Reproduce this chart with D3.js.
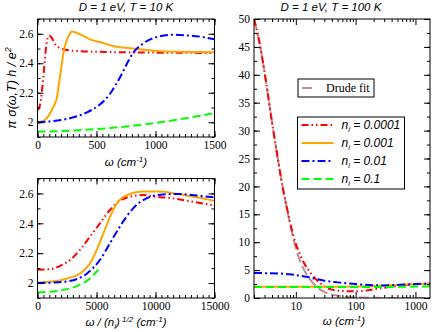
<!DOCTYPE html>
<html>
<head>
<meta charset="utf-8">
<title>optical conductivity</title>
<script src="https://cdnjs.cloudflare.com/ajax/libs/d3/7.8.5/d3.min.js"></script>
<style>
  body { margin: 0; background: #fff; }
  svg { display: block; }
</style>
</head>
<body>
<script>
// ---- data ----
var niLabels = ["0.0001", "0.001", "0.01", "0.1"];

// top left panel, T = 10 K  (omega in cm^-1, pi sigma h / e^2)
var wRed10 = [0, 10, 20, 30, 40, 50, 60, 70, 80, 90, 100, 115, 130, 150, 175, 200, 300, 500, 1000, 1500];
var sRed10 = [2.085, 2.09, 2.115, 2.16, 2.23, 2.31, 2.40, 2.49, 2.55, 2.578, 2.588, 2.578, 2.56, 2.53, 2.51, 2.50, 2.485, 2.478, 2.472, 2.47];
var wOra10 = [0, 50, 100, 125, 150, 163, 180, 191, 210, 225, 250, 275, 290, 310, 350, 400, 450, 528, 650, 808, 1089, 1300, 1500];
var sOra10 = [2.0, 2.01, 2.05, 2.09, 2.13, 2.16, 2.25, 2.31, 2.42, 2.49, 2.56, 2.60, 2.615, 2.612, 2.60, 2.58, 2.56, 2.544, 2.515, 2.50, 2.48, 2.477, 2.475];
var wBlu10 = [0, 100, 247, 416, 528, 612, 660, 710, 760, 808, 893, 1033, 1145, 1258, 1398, 1500];
var sBlu10 = [2.0, 2.005, 2.022, 2.066, 2.12, 2.19, 2.25, 2.32, 2.40, 2.467, 2.533, 2.582, 2.593, 2.589, 2.578, 2.562];
var wGre10 = [0, 200, 400, 600, 800, 1000, 1200, 1350, 1500];
var sGre10 = [1.937, 1.94, 1.948, 1.96, 1.975, 1.995, 2.02, 2.04, 2.062];

// bottom left panel, omega / sqrt(n_i)
var xRedS = [0, 1072, 1916, 2760, 3604, 4448, 5292, 6137, 6981, 7825, 8950, 10076, 11483, 13171, 15000];
var sRedS = [2.089, 2.093, 2.115, 2.155, 2.222, 2.311, 2.40, 2.489, 2.551, 2.578, 2.589, 2.578, 2.567, 2.544, 2.52];
var xOraS = [0, 1200, 2535, 3604, 4448, 5011, 5573, 6137, 6700, 7525, 8950, 10357, 11764, 13734, 15000];
var sOraS = [2.002, 2.01, 2.031, 2.064, 2.131, 2.22, 2.331, 2.442, 2.531, 2.587, 2.613, 2.613, 2.598, 2.571, 2.55];
var xBluS = [0, 1200, 2535, 4223, 5292, 6137, 6981, 8106, 9232, 10638, 12045, 13734, 15000];
var sBluS = [2.0, 2.003, 2.011, 2.066, 2.155, 2.266, 2.378, 2.50, 2.567, 2.593, 2.596, 2.584, 2.573];
var xGreS = [0, 1916, 3323, 4448, 5151];
var sGreS = [1.937, 1.95, 1.98, 2.031, 2.089];

// right panel, T = 100 K (log omega)
var wDrude = [2, 2.5, 3, 4, 5, 6, 7, 8, 10, 12, 15, 20, 25, 30, 40, 50, 70, 100, 200, 500, 1000, 1750];
var sDrude = [50, 45.5, 40.5, 31.5, 25.0, 19.9, 16.3, 13.3, 8.9, 6.4, 4.3, 2.5, 1.6, 1.1, 0.6, 0.4, 0.2, 0.1, 0.03, 0, 0, 0];
var wRed100 = [2, 2.5, 3, 4, 5, 6, 7, 8, 10, 12, 14, 18, 22, 26, 30, 40, 60, 80, 100, 150, 200, 300, 500, 700, 1000, 1750];
var sRed100 = [50, 45.5, 40.5, 31.5, 25, 20, 16.5, 13.6, 9.7, 7.6, 6.1, 4.4, 3.3, 2.6, 2.1, 1.5, 1.25, 1.2, 1.2, 1.35, 1.55, 1.85, 2.15, 2.35, 2.45, 2.55];
var wOra100 = [2, 10, 50, 100, 200, 500, 1000, 1750];
var sOra100 = [2.0, 2.0, 2.02, 2.05, 2.15, 2.35, 2.5, 2.55];
var wBlu100 = [2, 3, 5, 8, 10, 15, 20, 30, 50, 100, 200, 300, 500, 1000, 1750];
var sBlu100 = [4.5, 4.45, 4.4, 4.25, 4.1, 3.8, 3.5, 3.1, 2.8, 2.5, 2.3, 2.25, 2.35, 2.5, 2.6];
var wGre100 = [2, 100, 500, 1000, 1750];
var sGre100 = [1.97, 1.97, 2.0, 2.05, 2.1];

// tick values
var xMaj1 = [0, 500, 1000, 1500];
var xMaj2 = [0, 5000, 10000, 15000];
var yMajL = [2, 2.2, 2.4, 2.6];
var yMajR = [0, 5, 10, 15, 20, 25, 30, 35, 40, 45, 50];
var xMajLog = [10, 100, 1000];

// ---- styles for the four impurity concentrations ----
var colors = ["#ff0000", "#ffa500", "#0000ff", "#00ff00"];
var dashes = ["7,3,1.5,3,1.5,3", null, "8,3,2,3", "8,4"];
var drudeColor = "#bc8f8f";

var svg = d3.select("body").append("svg")
    .attr("width", 436)
    .attr("height", 332);

var serif = "Liberation Serif, Times New Roman, serif";
var sans = "Liberation Sans, Arial, sans-serif";

function range(a, b, step) {
  var out = [];
  for (var v = a; v <= b + 1e-9; v += step) out.push(+v.toFixed(6));
  return out;
}

// draws frame and inward ticks on all four sides
function frame(g, x, y, w, h, xMaj, xMin, yMaj, yMin, xFmt) {
  function add(axis, tx, ty, size, fmt) {
    var a = g.append("g")
        .attr("transform", "translate(" + tx + "," + ty + ")")
        .call(axis.tickSize(-size).tickPadding(4).tickFormat(fmt));
    a.select(".domain").remove();
    a.attr("font-family", serif).attr("font-size", 11.5);
    a.selectAll("text").attr("fill", "#000");
  }
  var none = function() { return ""; };
  add(d3.axisBottom(x).tickValues(xMin), 0, h, 3, none);
  add(d3.axisBottom(x).tickValues(xMaj), 0, h, 6, xFmt);
  add(d3.axisTop(x).tickValues(xMin), 0, 0, 3, none);
  add(d3.axisTop(x).tickValues(xMaj), 0, 0, 6, none);
  add(d3.axisLeft(y).tickValues(yMin), 0, 0, 3, none);
  add(d3.axisLeft(y).tickValues(yMaj), 0, 0, 6, function(d) { return String(d); });
  add(d3.axisRight(y).tickValues(yMin), w, 0, 3, none);
  add(d3.axisRight(y).tickValues(yMaj), w, 0, 6, none);
  g.append("rect")
      .attr("width", w).attr("height", h)
      .attr("fill", "none").attr("stroke", "#000").attr("stroke-width", 1);
}

function curve(g, x, y, xs, ys, color, dash, width) {
  var line = d3.line()
      .x(function(d, i) { return x(xs[i]); })
      .y(function(d) { return y(d); })
      .curve(d3.curveMonotoneX);
  g.append("path")
      .attr("d", line(ys))
      .attr("fill", "none")
      .attr("stroke", color)
      .attr("stroke-width", width || 2)
      .attr("stroke-dasharray", dash);
}

// ---- top left ----
var p1 = {left: 37.5, top: 19, w: 177, h: 118};
var g1 = svg.append("g").attr("transform", "translate(" + p1.left + "," + p1.top + ")");
var x1 = d3.scaleLinear().domain([0, 1500]).range([0, p1.w]);
var y1 = d3.scaleLinear().domain([1.9, 2.7]).range([p1.h, 0]);
g1.append("clipPath").attr("id", "c1").append("rect").attr("width", p1.w).attr("height", p1.h);
var d1 = g1.append("g").attr("clip-path", "url(#c1)");
curve(d1, x1, y1, wRed10, sRed10, colors[0], dashes[0]);
curve(d1, x1, y1, wOra10, sOra10, colors[1], dashes[1]);
curve(d1, x1, y1, wBlu10, sBlu10, colors[2], dashes[2]);
curve(d1, x1, y1, wGre10, sGre10, colors[3], dashes[3]);
frame(g1, x1, y1, p1.w, p1.h, xMaj1, range(0, 1500, 50), yMajL, range(1.9, 2.7, 0.1), function(d) { return String(d); });

// ---- bottom left ----
var p2 = {left: 37.5, top: 178.5, w: 177, h: 119.5};
var g2 = svg.append("g").attr("transform", "translate(" + p2.left + "," + p2.top + ")");
var x2 = d3.scaleLinear().domain([0, 15000]).range([0, p2.w]);
var y2 = d3.scaleLinear().domain([1.9, 2.7]).range([p2.h, 0]);
g2.append("clipPath").attr("id", "c2").append("rect").attr("width", p2.w).attr("height", p2.h);
var d2 = g2.append("g").attr("clip-path", "url(#c2)");
curve(d2, x2, y2, xRedS, sRedS, colors[0], dashes[0]);
curve(d2, x2, y2, xOraS, sOraS, colors[1], dashes[1]);
curve(d2, x2, y2, xBluS, sBluS, colors[2], dashes[2]);
curve(d2, x2, y2, xGreS, sGreS, colors[3], dashes[3]);
frame(g2, x2, y2, p2.w, p2.h, xMaj2, range(0, 15000, 500), yMajL, range(1.9, 2.7, 0.1), function(d) { return String(d); });

// ---- right ----
var p3 = {left: 254, top: 19, w: 176, h: 279};
var g3 = svg.append("g").attr("transform", "translate(" + p3.left + "," + p3.top + ")");
var x3 = d3.scaleLog().domain([2, 1750]).range([0, p3.w]);
var y3 = d3.scaleLinear().domain([0, 50]).range([p3.h, 0]);
g3.append("clipPath").attr("id", "c3").append("rect").attr("width", p3.w).attr("height", p3.h);
var d3g = g3.append("g").attr("clip-path", "url(#c3)");
curve(d3g, x3, y3, wDrude, sDrude, drudeColor, "10,4", 2);
curve(d3g, x3, y3, wRed100, sRed100, colors[0], dashes[0]);
curve(d3g, x3, y3, wOra100, sOra100, colors[1], dashes[1]);
curve(d3g, x3, y3, wBlu100, sBlu100, colors[2], dashes[2]);
curve(d3g, x3, y3, wGre100, sGre100, colors[3], dashes[3]);
var logMinor = [];
[1, 10, 100].forEach(function(dec) {
  for (var k = 2; k <= 9; k++) if (k * dec >= 2 && k * dec <= 1750) logMinor.push(k * dec);
});
frame(g3, x3, y3, p3.w, p3.h, xMajLog, logMinor, yMajR, range(0, 50, 2.5), function(d) { return String(d); });

// ---- titles and axis labels ----
function title(x, y, txt) {
  return svg.append("text")
      .attr("x", x).attr("y", y)
      .attr("text-anchor", "middle")
      .attr("font-family", sans).attr("font-style", "italic").attr("font-size", 11.5)
      .text(txt);
}
title(126, 11, "D = 1 eV, T = 10 K");
title(331, 11, "D = 1 eV, T = 100 K");

function omegaLabel(x, y) {
  var t = title(x, y, "ω (cm");
  t.append("tspan").attr("dy", -4).attr("font-size", 8).text("-1");
  t.append("tspan").attr("dy", 4).text(")");
}
omegaLabel(126, 166);
omegaLabel(344, 325);

var t2 = title(126, 326, "ω / (n");
t2.append("tspan").attr("dy", 3).attr("font-size", 8).text("i");
t2.append("tspan").attr("dy", -3).text(")");
t2.append("tspan").attr("dy", -4).attr("font-size", 8).text(" 1/2");
t2.append("tspan").attr("dy", 4).text("  (cm");
t2.append("tspan").attr("dy", -4).attr("font-size", 8).text("-1");
t2.append("tspan").attr("dy", 4).text(")");

var yl = svg.append("text")
    .attr("transform", "translate(16,88) rotate(-90)")
    .attr("text-anchor", "middle")
    .attr("font-family", sans).attr("font-style", "italic").attr("font-size", 12.5)
    .text("π σ(ω,T) h / e");
yl.append("tspan").attr("dy", -5).attr("font-size", 9).text("2");

// ---- legends ----
var leg1 = svg.append("g").attr("transform", "translate(298,79)");
leg1.append("rect").attr("width", 76).attr("height", 18)
    .attr("fill", "#fff").attr("stroke", "#000");
leg1.append("line").attr("x1", 4).attr("x2", 18).attr("y1", 9).attr("y2", 9)
    .attr("stroke", drudeColor).attr("stroke-width", 2).attr("stroke-dasharray", "10,4");
leg1.append("text").attr("x", 28).attr("y", 13)
    .attr("font-family", serif).attr("font-size", 12).text("Drude fit");

var leg2 = svg.append("g").attr("transform", "translate(297.5,117)");
leg2.append("rect").attr("width", 107).attr("height", 72)
    .attr("fill", "#fff").attr("stroke", "#000");
var rows = leg2.selectAll("g.row")
    .data(niLabels)
    .enter().append("g")
    .attr("class", "row")
    .attr("transform", function(d, i) { return "translate(0," + (8 + i * 18) + ")"; });
rows.append("line")
    .attr("x1", 4).attr("x2", 36).attr("y1", 0).attr("y2", 0)
    .attr("stroke", function(d, i) { return colors[i]; })
    .attr("stroke-width", 2)
    .attr("stroke-dasharray", function(d, i) { return dashes[i]; });
var lt = rows.append("text")
    .attr("x", 44).attr("y", 4)
    .attr("font-family", sans).attr("font-style", "italic").attr("font-size", 12);
lt.append("tspan").text("n");
lt.append("tspan").attr("dy", 3).attr("font-size", 7.5).text("i");
lt.append("tspan").attr("dy", -3).text(function(d) { return " = " + d; });
</script>
</body>
</html>
